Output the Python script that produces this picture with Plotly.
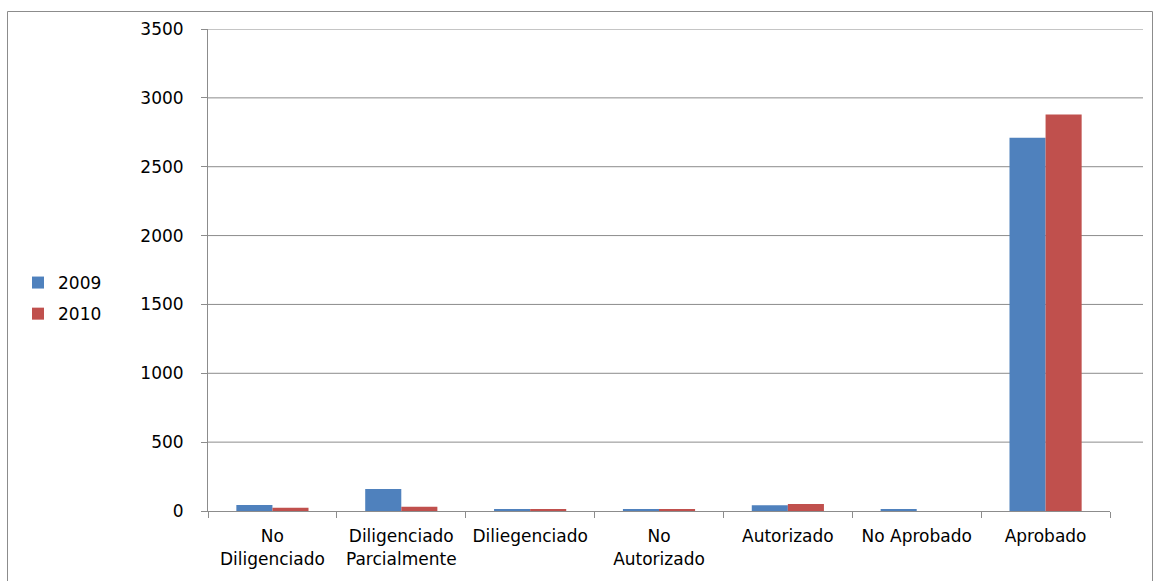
import plotly.graph_objects as go

categories = ["No<br>Diligenciado", "Diligenciado<br>Parcialmente", "Diliegenciado",
              "No<br>Autorizado", "Autorizado", "No Aprobado", "Aprobado"]
values_2009 = [44, 160, 10, 10, 42, 10, 2710]
values_2010 = [24, 30, 10, 10, 50, 0, 2880]
y_ticks = [0, 500, 1000, 1500, 2000, 2500, 3000, 3500]

W, H = 1156, 581
L, R, T, B = 208, 1110, 29, 511
pw, ph = R - L, B - T

def px(x):
    return (x - L) / pw

def py(y):
    return (B - y) / ph

font = dict(family="DejaVu Sans", size=17, color="#000000")
grid_col = "#8c8c8c"

fig = go.Figure()
fig.add_trace(go.Bar(name="2009", x=categories, y=values_2009, legendgroup="a",
                     marker=dict(color="#4F81BD", line=dict(width=0))))
fig.add_trace(go.Bar(name="2010", x=categories, y=values_2010, legendgroup="b",
                     marker=dict(color="#C0504D", line=dict(width=0))))

shapes = []
for t in y_ticks[1:]:
    shapes.append(dict(type="line", xref="paper", yref="y", x0=0, x1=px(1143),
                       y0=t, y1=t, line=dict(color=grid_col, width=1), layer="below"))
shapes.append(dict(type="rect", xref="paper", yref="paper",
                   x0=px(7.5), x1=px(1152.5), y0=py(590), y1=py(11.5),
                   line=dict(color="#8c8c8c", width=1), layer="below"))

fig.update_layout(
    width=W, height=H,
    margin=dict(l=L, r=W - R, t=T, b=H - B, pad=0),
    paper_bgcolor="white", plot_bgcolor="white",
    barmode="group", bargap=0.44, bargroupgap=0,
    font=font,
    showlegend=True,
    legend=dict(x=px(18), y=py(265), xanchor="left", yanchor="top",
                font=dict(family="DejaVu Sans", size=17), bgcolor="rgba(0,0,0,0)",
                itemwidth=30, tracegroupgap=6),
    shapes=shapes,
)
fig.update_xaxes(showline=True, linecolor=grid_col, linewidth=1,
                 ticks="outside", tickson="boundaries", ticklen=6, tickcolor=grid_col,
                 showgrid=False, tickfont=font, tickangle=0, automargin=False,
                 ticklabelstandoff=10)
fig.update_yaxes(range=[0, 3500], tickvals=y_ticks, showgrid=False, zeroline=False,
                 showline=True, linecolor=grid_col, linewidth=1,
                 ticks="outside", ticklen=6, tickcolor=grid_col,
                 ticklabelstandoff=14, tickfont=font, automargin=False)

fig.write_html("out.html")
